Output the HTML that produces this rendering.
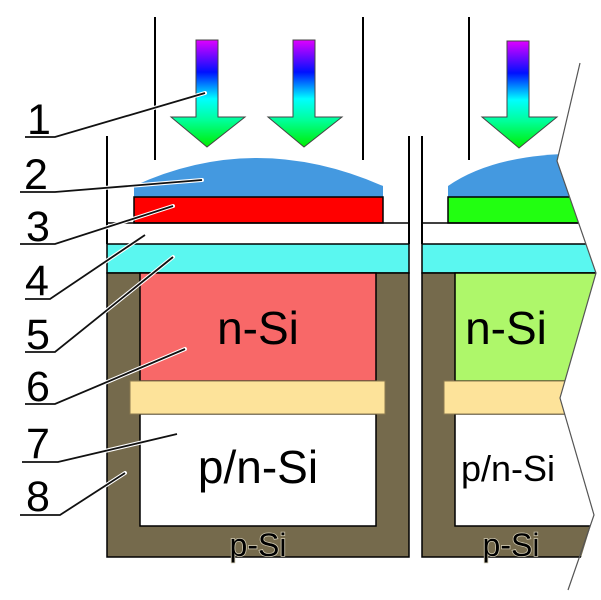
<!DOCTYPE html>
<html><head><meta charset="utf-8"><style>html,body{margin:0;padding:0;background:#fff}svg{display:block}</style></head>
<body>
<svg width="601" height="600" viewBox="0 0 601 600" xmlns="http://www.w3.org/2000/svg" font-family="Liberation Sans, sans-serif">
<defs>
<linearGradient id="g" x1="0" y1="0" x2="0" y2="1" gradientUnits="objectBoundingBox">
<stop offset="0" stop-color="#e000ff"/><stop offset="0.3" stop-color="#0010ff"/><stop offset="0.55" stop-color="#00ffff"/><stop offset="0.75" stop-color="#00ff99"/><stop offset="1" stop-color="#00ee00"/>
</linearGradient>
<clipPath id="cl"><polygon points="0,0 594,0 580,63 557,161 596,273 560,398 594,515 568,600 0,600"/></clipPath>
</defs>
<g stroke="#000" stroke-width="2">
<line x1="155" y1="17" x2="155" y2="160"/><line x1="363" y1="17" x2="363" y2="160"/><line x1="469" y1="17" x2="469" y2="160"/>
<line x1="107" y1="136" x2="107" y2="244"/><line x1="409" y1="136" x2="409" y2="244"/><line x1="422" y1="136" x2="422" y2="244"/>
</g>
<g fill="url(#g)" stroke="#444" stroke-width="1">
<polygon points="196,40 218,40 218,117 245,117 207,147 171,117 196,117"/>
<polygon points="293,40 315,40 315,117 342,117 304,147 268,117 293,117"/>
<polygon points="507,41 529,41 529,117 557,117 519,148 482,117 507,117"/>
</g>
<path d="M134,186 Q255,130 383,186 L383,197 L134,197 Z" fill="#4499e0"/>
<rect x="134" y="197" width="249" height="26" fill="#ff0000" stroke="#000" stroke-width="1.5"/>
<line x1="107" y1="223" x2="409" y2="223" stroke="#000" stroke-width="1.5"/>
<rect x="107" y="244" width="302" height="29" fill="#5af7f0" stroke="#000" stroke-width="1.5"/>
<rect x="107" y="273" width="302" height="284" fill="#756a4c" stroke="#000" stroke-width="1.5"/>
<rect x="140" y="273" width="236" height="108" fill="#f86868" stroke="#000" stroke-width="1.5"/>
<rect x="140" y="414" width="236" height="112" fill="#fff" stroke="#000" stroke-width="1.5"/>
<rect x="130" y="381" width="255" height="33" fill="#fde39a" stroke="#8a7a50" stroke-width="1"/>
<g clip-path="url(#cl)">
<path d="M448,186 Q500,150 600,154 L600,197 L448,197 Z" fill="#4499e0"/>
<rect x="448" y="197" width="160" height="26" fill="#22ff11" stroke="#000" stroke-width="1.5"/>
<line x1="422" y1="223" x2="601" y2="223" stroke="#000" stroke-width="1.5"/>
<rect x="422" y="244" width="190" height="29" fill="#5af7f0" stroke="#000" stroke-width="1.5"/>
<rect x="422" y="273" width="190" height="284" fill="#756a4c" stroke="#000" stroke-width="1.5"/>
<rect x="455" y="273" width="160" height="108" fill="#aef76a" stroke="#000" stroke-width="1.5"/>
<rect x="455" y="414" width="160" height="112" fill="#fff" stroke="#000" stroke-width="1.5"/>
<rect x="444" y="381" width="170" height="33" fill="#fde39a" stroke="#8a7a50" stroke-width="1"/>
</g>
<polyline points="580,63 557,161 596,273 560,398 594,515 568,590" fill="none" stroke="#555" stroke-width="1.2"/>
<g font-size="46" text-anchor="middle" fill="#000">
<text x="258" y="344">n-Si</text>
<text x="506" y="344">n-Si</text>
<text x="258" y="483">p/n-Si</text>
<text x="508" y="481" font-size="36">p/n-Si</text>
</g>
<g font-size="32" text-anchor="middle" fill="#000" stroke="#cfc8b0" stroke-width="1.6" paint-order="stroke">
<text x="258" y="556">p-Si</text>
<text x="511" y="556">p-Si</text>
</g>
<g font-size="43" text-anchor="middle" fill="#000">
<text x="39" y="134">1</text><text x="36" y="189">2</text><text x="38" y="241">3</text><text x="37" y="295">4</text>
<text x="38" y="349">5</text><text x="38" y="401">6</text><text x="38" y="458">7</text><text x="38" y="511">8</text>
</g>
<g fill="none" stroke="#fff" stroke-width="4" stroke-linecap="round">
<polyline points="55,137 205,93"/><polyline points="55,192 202,180"/><polyline points="55,244 173,206"/><polyline points="50,299 145,235"/>
<polyline points="55,352 173,257"/><polyline points="55,404 185,349"/><polyline points="58,462 177,434"/><polyline points="60,515 125,473"/>
</g>
<g fill="none" stroke="#111" stroke-width="1.8">
<polyline points="25,137 55,137 205,93"/><polyline points="20,192 55,192 202,180"/><polyline points="20,244 55,244 173,206"/><polyline points="25,299 50,299 145,235"/>
<polyline points="25,352 55,352 173,257"/><polyline points="25,404 55,404 185,349"/><polyline points="22,462 58,462 177,434"/><polyline points="20,515 60,515 125,473"/>
</g>
</svg>
</body></html>
